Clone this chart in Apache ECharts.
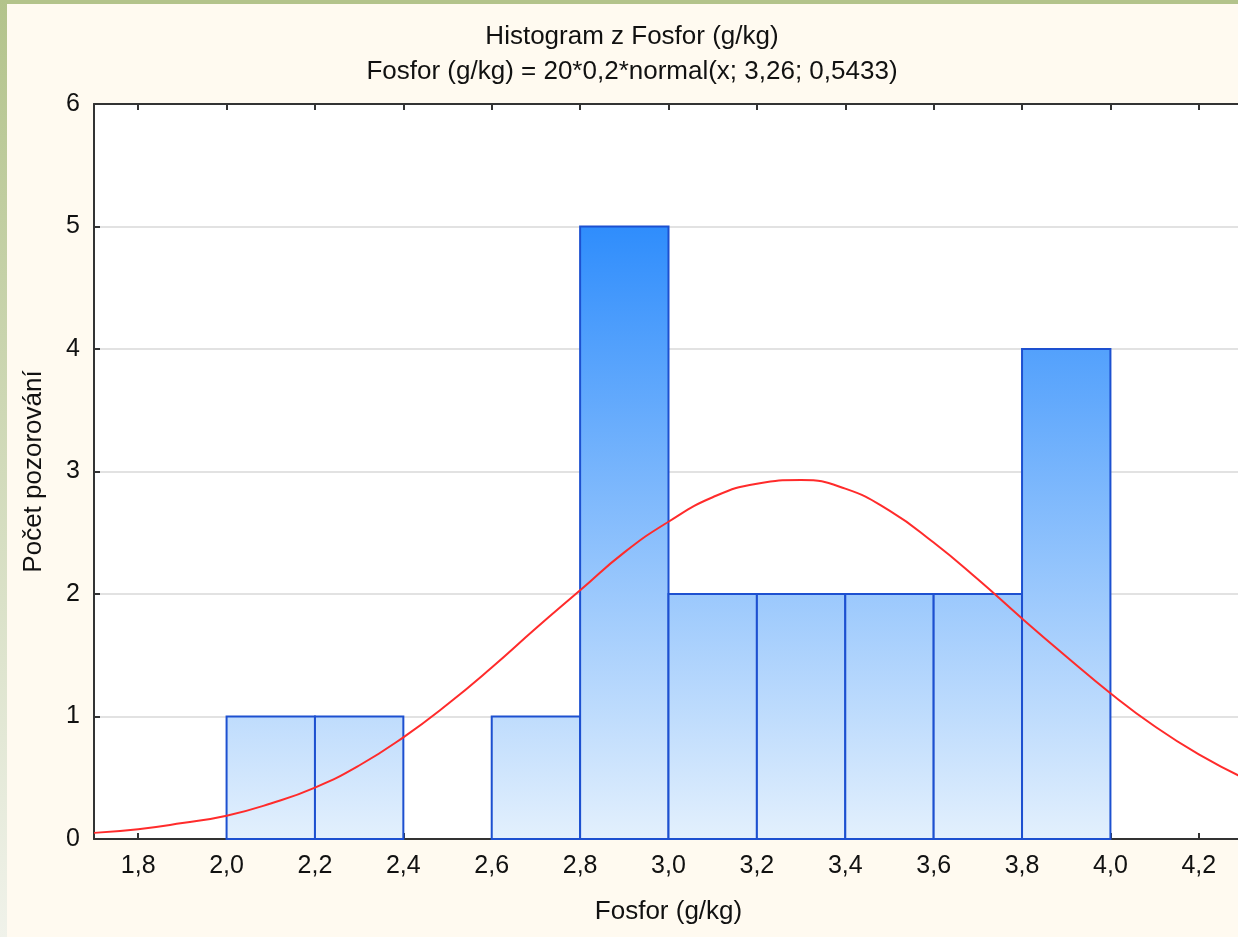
<!DOCTYPE html>
<html>
<head>
<meta charset="utf-8">
<title>Histogram z Fosfor (g/kg)</title>
<script src="https://cdn.jsdelivr.net/npm/echarts@6.0.0/dist/echarts.min.js"></script>
<style>
  html, body { margin: 0; padding: 0; overflow: hidden; background: #fffaf0; width: 1238px; height: 937px; }
  #chart { width: 1246px; height: 937px; }
</style>
</head>
<body>
<div id="chart"></div>
<script>
// histogram bins (lower edge) and counts, bin width 0.2
const binStarts = [2.0, 2.2, 2.4, 2.6, 2.8, 3.0, 3.2, 3.4, 3.6, 3.8]
const binCounts = [1, 1, 0, 1, 5, 2, 2, 2, 2, 4]
const binWidth = 0.2

// fitted normal curve
const curveX = [1.7, 1.8, 1.9, 2.0, 2.1, 2.2, 2.3, 2.4, 2.5, 2.6, 2.7, 2.8, 2.9, 3.0,
  3.1, 3.2, 3.3, 3.4, 3.5, 3.6, 3.7, 3.8, 3.9, 4.0, 4.1, 4.2, 4.3]
const curveY = [0.05, 0.08, 0.13, 0.19, 0.29, 0.42, 0.60, 0.83, 1.10, 1.40, 1.72, 2.03, 2.34, 2.59,
  2.79, 2.90, 2.93, 2.86, 2.68, 2.42, 2.12, 1.80, 1.49, 1.19, 0.92, 0.69, 0.50]

const xTicks = [1.8, 2.0, 2.2, 2.4, 2.6, 2.8, 3.0, 3.2, 3.4, 3.6, 3.8, 4.0, 4.2]

const FONT = '"Liberation Sans", Arial, sans-serif'

let myChart = echarts.init(document.getElementById('chart'))

let barData = []
binStarts.forEach((s, i) => {
  if (binCounts[i] > 0) barData.push([s, s + binWidth, binCounts[i]])
})
let curveData = curveX.map((x, i) => [x, curveY[i]])

function renderBar(params, api) {
  let start = api.value(0)
  let end = api.value(1)
  let count = api.value(2)
  let p0 = api.coord([start, count])
  let p1 = api.coord([end, 0])
  let top5 = api.coord([start, 5])[1] // gradient is fixed to the plot, not the bar
  return {
    type: 'rect',
    shape: { x: p0[0], y: p0[1], width: p1[0] - p0[0], height: p1[1] - p0[1] },
    style: {
      fill: new echarts.graphic.LinearGradient(0, top5, 0, p1[1], [
        { offset: 0, color: '#2f8dfc' },
        { offset: 1, color: '#e3f0fd' }
      ], true),
      stroke: '#1d50d0',
      lineWidth: 2
    }
  }
}

let commaFmt = v => v.toFixed(1).replace('.', ',')

let option = {
  backgroundColor: '#fffaf0',
  animation: false,
  textStyle: { fontFamily: FONT },
  graphic: [
    { type: 'rect', shape: { x: 0, y: 0, width: 1246, height: 4 }, style: { fill: '#b3c38b' }, z: 100 },
    {
      type: 'rect', shape: { x: 0, y: 0, width: 7, height: 937 }, z: 100,
      style: {
        fill: new echarts.graphic.LinearGradient(0, 0, 0, 1, [
          { offset: 0, color: '#b3c38b' },
          { offset: 1, color: '#f0f2ea' }
        ])
      }
    },
    {
      type: 'text', x: 632, y: 37,
      style: { text: 'Histogram z Fosfor (g/kg)', font: '26px ' + FONT, fill: '#111', textAlign: 'center', textVerticalAlign: 'middle' }
    },
    {
      type: 'text', x: 632, y: 72,
      style: { text: 'Fosfor (g/kg) = 20*0,2*normal(x; 3,26; 0,5433)', font: '26px ' + FONT, fill: '#111', textAlign: 'center', textVerticalAlign: 'middle' }
    }
  ],
  grid: {
    left: 94,
    top: 104,
    right: 3,
    bottom: 98,
    show: true,
    backgroundColor: '#ffffff',
    borderWidth: 0
  },
  xAxis: [{
    type: 'value',
    min: 1.7,
    max: 4.3,
    position: 'bottom',
    name: 'Fosfor (g/kg)',
    nameLocation: 'middle',
    nameGap: 60,
    nameTextStyle: { fontSize: 26, color: '#111', fontFamily: FONT },
    axisLine: { show: true, lineStyle: { color: '#333', width: 2 } },
    axisTick: { show: true, inside: true, length: 6, customValues: xTicks, lineStyle: { color: '#333', width: 2 } },
    axisLabel: { customValues: xTicks, formatter: commaFmt, fontSize: 25, color: '#111', margin: 15, fontFamily: FONT },
    splitLine: { show: false }
  }, {
    type: 'value',
    min: 1.7,
    max: 4.3,
    position: 'top',
    axisLine: { show: true, lineStyle: { color: '#333', width: 2 } },
    axisTick: { show: true, inside: true, length: 6, customValues: xTicks, lineStyle: { color: '#333', width: 2 } },
    axisLabel: { show: false },
    splitLine: { show: false }
  }],
  yAxis: {
    type: 'value',
    min: 0,
    max: 6,
    interval: 1,
    name: 'Počet pozorování',
    nameLocation: 'middle',
    nameGap: 47,
    nameTextStyle: { fontSize: 26, color: '#111', fontFamily: FONT },
    axisLine: { show: true, lineStyle: { color: '#333', width: 2 } },
    axisTick: { show: true, inside: true, length: 6, lineStyle: { color: '#333', width: 2 } },
    axisLabel: { fontSize: 25, color: '#111', margin: 14, fontFamily: FONT },
    splitLine: { show: true, lineStyle: { color: '#d8d8d8', width: 1.5 } }
  },
  series: [{
    type: 'custom',
    renderItem: renderBar,
    encode: { x: [0, 1], y: 2 },
    data: barData,
    z: 2
  }, {
    type: 'line',
    data: curveData,
    smooth: true,
    symbol: 'none',
    lineStyle: { color: '#ff2b2b', width: 2 },
    z: 3
  }]
}

myChart.setOption(option)
</script>
</body>
</html>
